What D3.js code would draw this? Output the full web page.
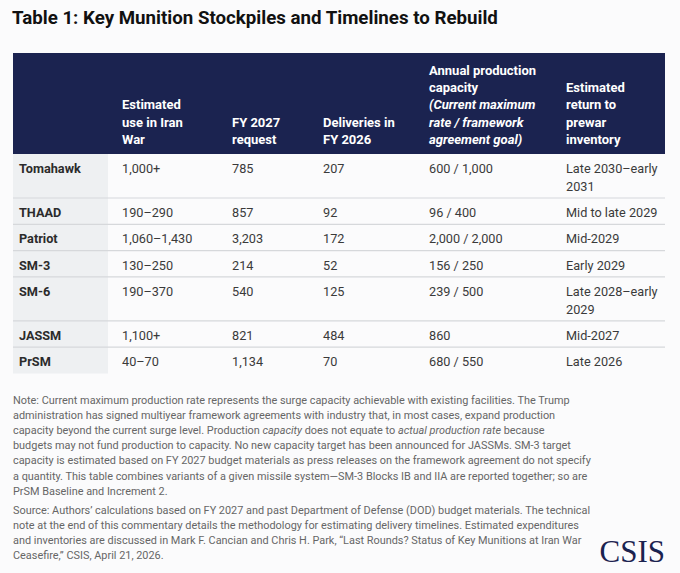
<!DOCTYPE html>
<html>
<head>
<meta charset="utf-8">
<script src="https://cdn.jsdelivr.net/npm/d3@7"></script>
<style>
  html, body { margin: 0; padding: 0; background: #fbfbfc; }
  svg { display: block; font-family: Roboto, "Liberation Sans", sans-serif; }
</style>
</head>
<body>
<svg width="680" height="573"></svg>
<script>
const svg = d3.select("svg");

const title = "Table 1: Key Munition Stockpiles and Timelines to Rebuild";

// header lines per column, [text, italic]
const headers = [
    [],
    [["Estimated", 0], ["use in Iran", 0], ["War", 0]],
    [["FY 2027", 0], ["request", 0]],
    [["Deliveries in", 0], ["FY 2026", 0]],
    [["Annual production", 0], ["capacity", 0], ["(Current maximum", 1], ["rate / framework", 1], ["agreement goal)", 1]],
    [["Estimated", 0], ["return to", 0], ["prewar", 0], ["inventory", 0]]
];

const munitions = ["Tomahawk", "THAAD", "Patriot", "SM-3", "SM-6", "JASSM", "PrSM"];
const useInWar = ["1,000+", "190–290", "1,060–1,430", "130–250", "190–370", "1,100+", "40–70"];
const fy27Request = ["785", "857", "3,203", "214", "540", "821", "1,134"];
const deliveries26 = ["207", "92", "172", "52", "125", "484", "70"];
const capacity = ["600 / 1,000", "96 / 400", "2,000 / 2,000", "156 / 250", "239 / 500", "860", "680 / 550"];
const returnDate = [["Late 2030–early", "2031"], ["Mid to late 2029"], ["Mid-2029"], ["Early 2029"], ["Late 2028–early", "2029"], ["Mid-2027"], ["Late 2026"]];

const noteLines = [
    [["Note: Current maximum production rate represents the surge capacity achievable with existing facilities. The Trump", 0]],
    [["administration has signed multiyear framework agreements with industry that, in most cases, expand production", 0]],
    [["capacity beyond the current surge level. Production ", 0], ["capacity", 1], [" does not equate to ", 0], ["actual production rate", 1], [" because", 0]],
    [["budgets may not fund production to capacity. No new capacity target has been announced for JASSMs. SM-3 target", 0]],
    [["capacity is estimated based on FY 2027 budget materials as press releases on the framework agreement do not specify", 0]],
    [["a quantity. This table combines variants of a given missile system—SM-3 Blocks IB and IIA are reported together; so are", 0]],
    [["PrSM Baseline and Increment 2.", 0]]
];
const sourceLines = [
    "Source: Authors’ calculations based on FY 2027 and past Department of Defense (DOD) budget materials. The technical",
    "note at the end of this commentary details the methodology for estimating delivery timelines. Estimated expenditures",
    "and inventories are discussed in Mark F. Cancian and Chris H. Park, “Last Rounds? Status of Key Munitions at Iran War",
    "Ceasefire,” CSIS, April 21, 2026."
];

const rows = munitions.map((m, i) => [[m], [useInWar[i]], [fy27Request[i]], [deliveries26[i]], [capacity[i]], returnDate[i]]);

// layout
const left = 13, right = 665;
const colX = [19, 122, 232, 323, 429, 566];
const labelColW = 95;
const headTop = 53, headBottom = 154;
const lineH = 17.3;
const oneLineRow = 26.3, extraLine = 17.7;

svg.append("text")
    .attr("x", 12).attr("y", 24)
    .attr("font-size", 18.7).attr("font-weight", 700).attr("fill", "#111")
    .text(title);

// header
svg.append("rect")
    .attr("x", left).attr("y", headTop)
    .attr("width", right - left).attr("height", headBottom - headTop)
    .attr("fill", "#1b2350");

headers.forEach((lines, c) => {
    lines.forEach((l, j) => {
        svg.append("text")
            .attr("x", colX[c])
            .attr("y", headBottom - 10 - (lines.length - 1 - j) * lineH)
            .attr("font-size", 13).attr("font-weight", 700)
            .attr("font-style", l[1] ? "italic" : "normal")
            .attr("fill", "#fff")
            .text(l[0]);
    });
});

// body rows
const rowH = rows.map(r => oneLineRow + (d3.max(r, c => c.length) - 1) * extraLine);
const rowY = rowH.map((h, i) => headBottom + d3.sum(rowH.slice(0, i)));
const tableBottom = headBottom + d3.sum(rowH);

svg.append("rect")
    .attr("x", left).attr("y", headBottom)
    .attr("width", labelColW).attr("height", tableBottom - headBottom)
    .attr("fill", "#eef0f2");

const g = svg.append("g");
rows.forEach((r, i) => {
    if (i > 0) {
        g.append("line")
            .attr("x1", left).attr("x2", right)
            .attr("y1", rowY[i]).attr("y2", rowY[i])
            .attr("stroke", "#d6d8db").attr("stroke-width", 1.2);
    }
    r.forEach((cell, c) => {
        cell.forEach((t, j) => {
            g.append("text")
                .attr("x", colX[c])
                .attr("y", rowY[i] + 19 + j * extraLine)
                .attr("font-size", 12.7)
                .attr("font-weight", c === 0 ? 700 : 400)
                .attr("fill", c === 0 ? "#2b2b2b" : "#3a3a3a")
                .text(t);
        });
    });
});

// notes
const notes = svg.append("g")
    .attr("font-size", 10.9).attr("fill", "#666");
noteLines.forEach((segs, i) => {
    const t = notes.append("text").attr("x", left).attr("y", 404 + i * 15.1);
    segs.forEach(s => t.append("tspan").attr("font-style", s[1] ? "italic" : "normal").text(s[0]));
});
sourceLines.forEach((s, i) => {
    notes.append("text").attr("x", left).attr("y", 514 + i * 15.1).text(s);
});

svg.append("text")
    .attr("x", 665).attr("y", 562)
    .attr("text-anchor", "end")
    .attr("font-family", "'Liberation Serif', 'DejaVu Serif', serif")
    .attr("font-size", 31).attr("fill", "#1b2350")
    .text("CSIS");
</script>
</body>
</html>
